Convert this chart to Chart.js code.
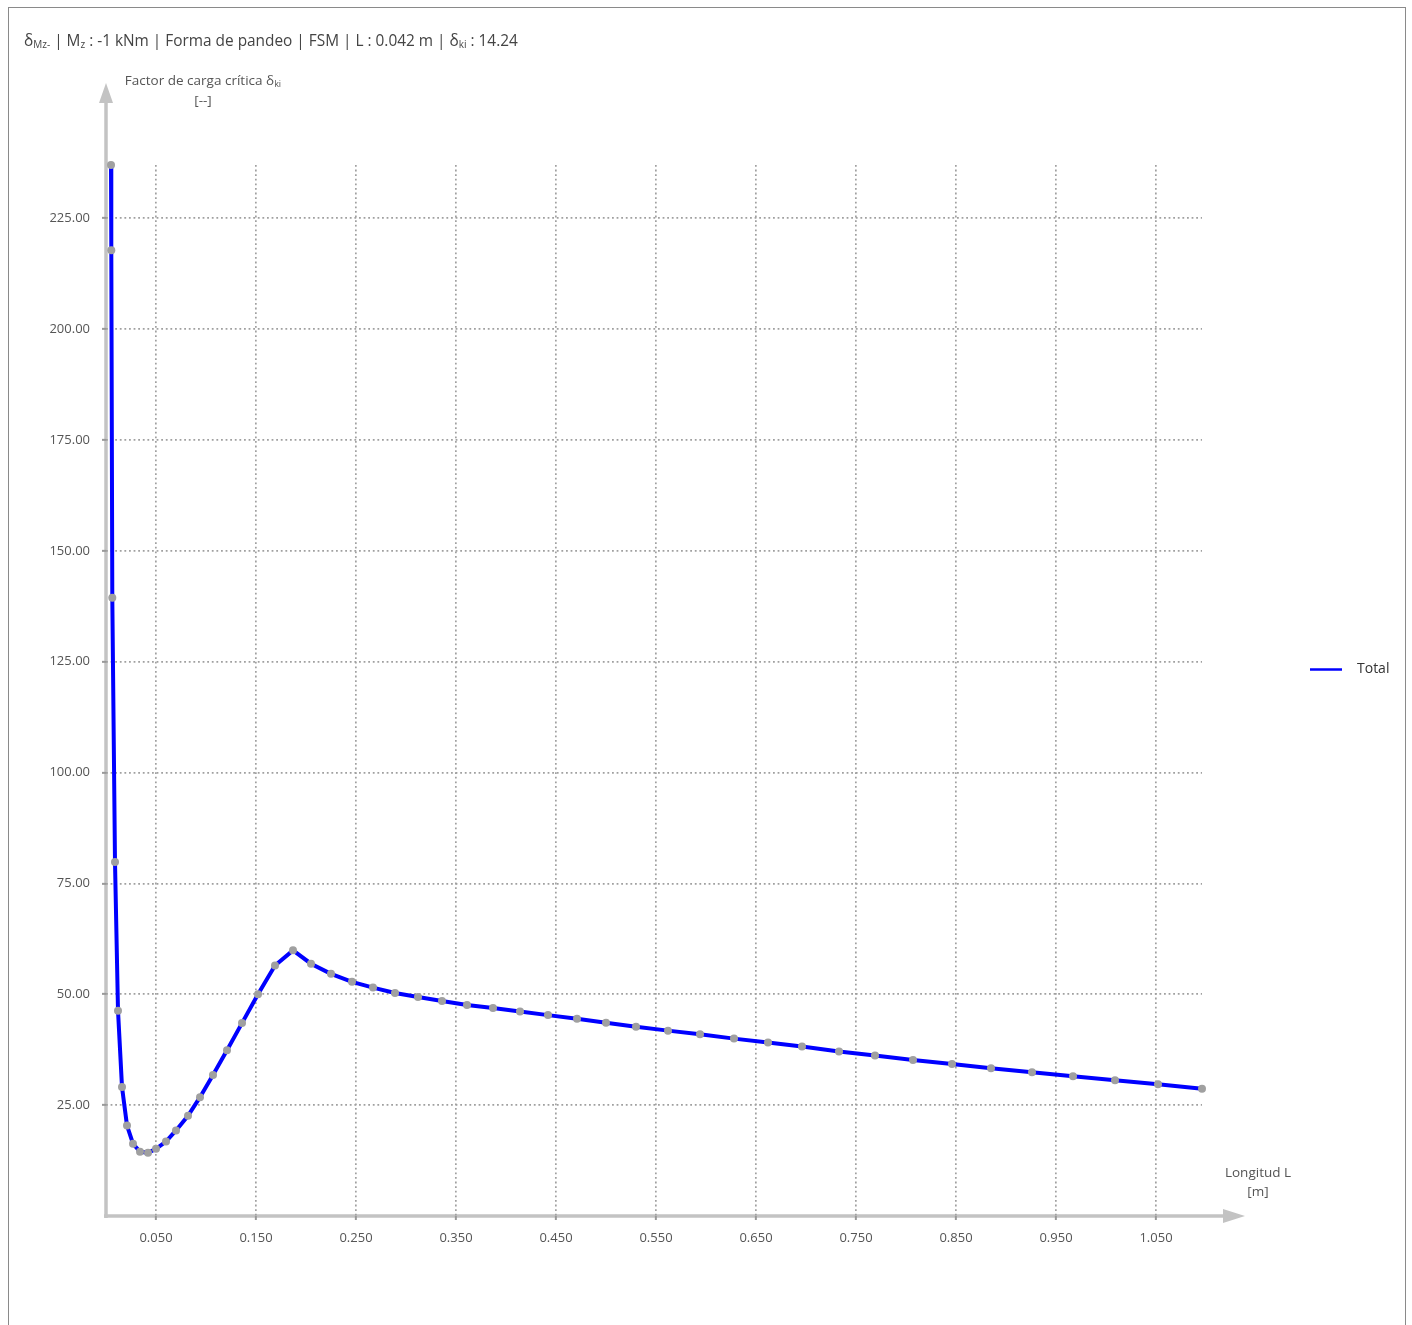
<!DOCTYPE html>
<html>
<head>
<meta charset="utf-8">
<script src="https://cdn.jsdelivr.net/npm/chart.js@4/dist/chart.umd.min.js"></script>
<style>
  body { margin: 0; background: #fff; font-family: "Open Sans", sans-serif; }
  #frame { position: absolute; left: 8px; top: 7px; width: 1396px; height: 1330px; border: 1px solid #8a8a8a; border-bottom: none; }
  #title { position: absolute; left: 15px; top: 22px; font-size: 15.4px; color: #444; white-space: nowrap; }
  #title sub { font-size: 10px; vertical-align: -2px; line-height: 0; }
  canvas { position: absolute; left: 0; top: 0; }
</style>
</head>
<body>
<div id="frame">
  <canvas id="buckling_chart" width="1396" height="1317"></canvas>
  <div id="title">δ<sub>Mz-</sub> | M<sub>z</sub> : -1 kNm | Forma de pandeo | FSM | L : 0.042 m | δ<sub>ki</sub> : 14.24</div>
</div>
<script>
// length L [m] and critical load factor per point
const lengths = [0.005, 0.0053, 0.0063, 0.009, 0.012, 0.016, 0.021, 0.027, 0.034, 0.042,
  0.050, 0.060, 0.070, 0.082, 0.094, 0.107, 0.121, 0.136, 0.152, 0.169,
  0.187, 0.205, 0.225, 0.246, 0.267, 0.289, 0.312, 0.336, 0.361, 0.387,
  0.414, 0.442, 0.471, 0.500, 0.530, 0.562, 0.594, 0.628, 0.662, 0.696,
  0.733, 0.769, 0.807, 0.846, 0.885, 0.926, 0.967, 1.009, 1.052, 1.096];
const factors = [237.0, 217.8, 139.4, 79.8, 46.3, 29.1, 20.4, 16.3, 14.5, 14.24,
  15.15, 16.8, 19.3, 22.6, 26.8, 31.8, 37.4, 43.5, 50.0, 56.5,
  59.9, 56.9, 54.6, 52.8, 51.5, 50.3, 49.4, 48.5, 47.6, 46.9,
  46.1, 45.3, 44.5, 43.6, 42.7, 41.8, 41.0, 40.0, 39.1, 38.2,
  37.1, 36.2, 35.2, 34.3, 33.3, 32.4, 31.5, 30.6, 29.7, 28.7];
const xTicks = [0.05, 0.15, 0.25, 0.35, 0.45, 0.55, 0.65, 0.75, 0.85, 0.95, 1.05];
const yTicks = [25, 50, 75, 100, 125, 150, 175, 200, 225];
const seriesName = 'Total';

const axisGray = '#c3c3c3';
const textGray = '#555';

// draws text with optional subscript parts: [[text, isSub], ...]
function richText(ctx, parts, cx, y, size) {
  const subSize = Math.round(size * 0.7);
  let total = 0;
  parts.forEach(p => {
    ctx.font = (p[1] ? subSize : size) + 'px "Open Sans"';
    total += ctx.measureText(p[0]).width;
  });
  let x = cx - total / 2;
  ctx.textAlign = 'left';
  ctx.textBaseline = 'middle';
  parts.forEach(p => {
    ctx.font = (p[1] ? subSize : size) + 'px "Open Sans"';
    ctx.fillText(p[0], x, p[1] ? y + 3 : y);
    x += ctx.measureText(p[0]).width;
  });
}

const decorations = {
  id: 'decorations',
  beforeDraw(chart) {
    const ctx = chart.ctx;
    const a = chart.chartArea;
    ctx.save();
    ctx.strokeStyle = axisGray;
    ctx.fillStyle = axisGray;
    ctx.lineWidth = 3.5;
    // y axis with arrow
    ctx.beginPath();
    ctx.moveTo(a.left, a.bottom + 2);
    ctx.lineTo(a.left, a.top - 62);
    ctx.stroke();
    ctx.beginPath();
    ctx.moveTo(a.left, a.top - 82);
    ctx.lineTo(a.left - 7, a.top - 62);
    ctx.lineTo(a.left + 7, a.top - 62);
    ctx.closePath();
    ctx.fill();
    // x axis with arrow
    ctx.beginPath();
    ctx.moveTo(a.left - 2, a.bottom);
    ctx.lineTo(a.right + 22, a.bottom);
    ctx.stroke();
    ctx.beginPath();
    ctx.moveTo(a.right + 43, a.bottom);
    ctx.lineTo(a.right + 21, a.bottom - 7);
    ctx.lineTo(a.right + 21, a.bottom + 7);
    ctx.closePath();
    ctx.fill();
    ctx.restore();
  },
  afterDraw(chart) {
    const ctx = chart.ctx;
    const a = chart.chartArea;
    ctx.save();
    ctx.fillStyle = textGray;
    richText(ctx, [['Factor de carga crítica δ', false], ['ki', true]], a.left + 97, a.top - 84, 13.5);
    richText(ctx, [['[--]', false]], a.left + 97, a.top - 64, 13.5);
    richText(ctx, [['Longitud L', false]], a.right + 56, a.bottom - 43, 13.5);
    richText(ctx, [['[m]', false]], a.right + 56, a.bottom - 24, 13.5);
    // legend
    const ly = chart.height / 2 + 3;
    const lx = chart.width - 95;
    ctx.strokeStyle = chart.data.datasets[0].borderColor;
    ctx.lineWidth = 2.5;
    ctx.beginPath();
    ctx.moveTo(lx, ly);
    ctx.lineTo(lx + 32, ly);
    ctx.stroke();
    ctx.fillStyle = '#333';
    ctx.font = '14px "Open Sans"';
    ctx.textAlign = 'left';
    ctx.textBaseline = 'middle';
    ctx.fillText(chart.data.datasets[0].label, lx + 47, ly);
    ctx.restore();
  }
};

const points = lengths.map((l, i) => ({ x: l, y: factors[i] }));

const config = {
  type: 'line',
  data: {
    datasets: [{
      label: seriesName,
      data: points,
      borderColor: '#0000ff',
      borderWidth: 4,
      pointRadius: 4,
      pointBackgroundColor: '#a0a0a0',
      pointBorderWidth: 0,
      tension: 0,
      clip: false
    }]
  },
  options: {
    responsive: false,
    animation: false,
    layout: { padding: { top: 157, right: 203, left: 0, bottom: 0 } },
    plugins: {
      legend: { display: false },
      tooltip: { enabled: false }
    },
    scales: {
      x: {
        type: 'linear',
        min: 0,
        max: lengths[lengths.length - 1],
        afterBuildTicks: s => { s.ticks = xTicks.map(v => ({ value: v })); },
        afterFit: s => { s.height = 109; },
        ticks: {
          padding: 10,
          color: textGray,
          font: { family: 'Open Sans', size: 13 },
          maxRotation: 0,
          autoSkip: false,
          callback: v => v.toFixed(3)
        },
        grid: { color: '#a0a0a0', lineWidth: 1.7, tickLength: 4, tickColor: '#999', tickWidth: 2 },
        border: { display: false, dash: [1.8, 2.8] }
      },
      y: {
        min: 0,
        max: 237,
        afterBuildTicks: s => { s.ticks = yTicks.map(v => ({ value: v })); },
        afterFit: s => { s.width = 97; },
        ticks: {
          padding: 12,
          color: textGray,
          font: { family: 'Open Sans', size: 13 },
          autoSkip: false,
          callback: v => v.toFixed(2)
        },
        grid: { color: '#a0a0a0', lineWidth: 1.7, tickLength: 4, tickColor: '#999', tickWidth: 2 },
        border: { display: false, dash: [1.8, 2.8] }
      }
    }
  },
  plugins: [decorations]
};

const buckling_chart = new Chart(document.getElementById('buckling_chart'), config);
</script>
</body>
</html>
